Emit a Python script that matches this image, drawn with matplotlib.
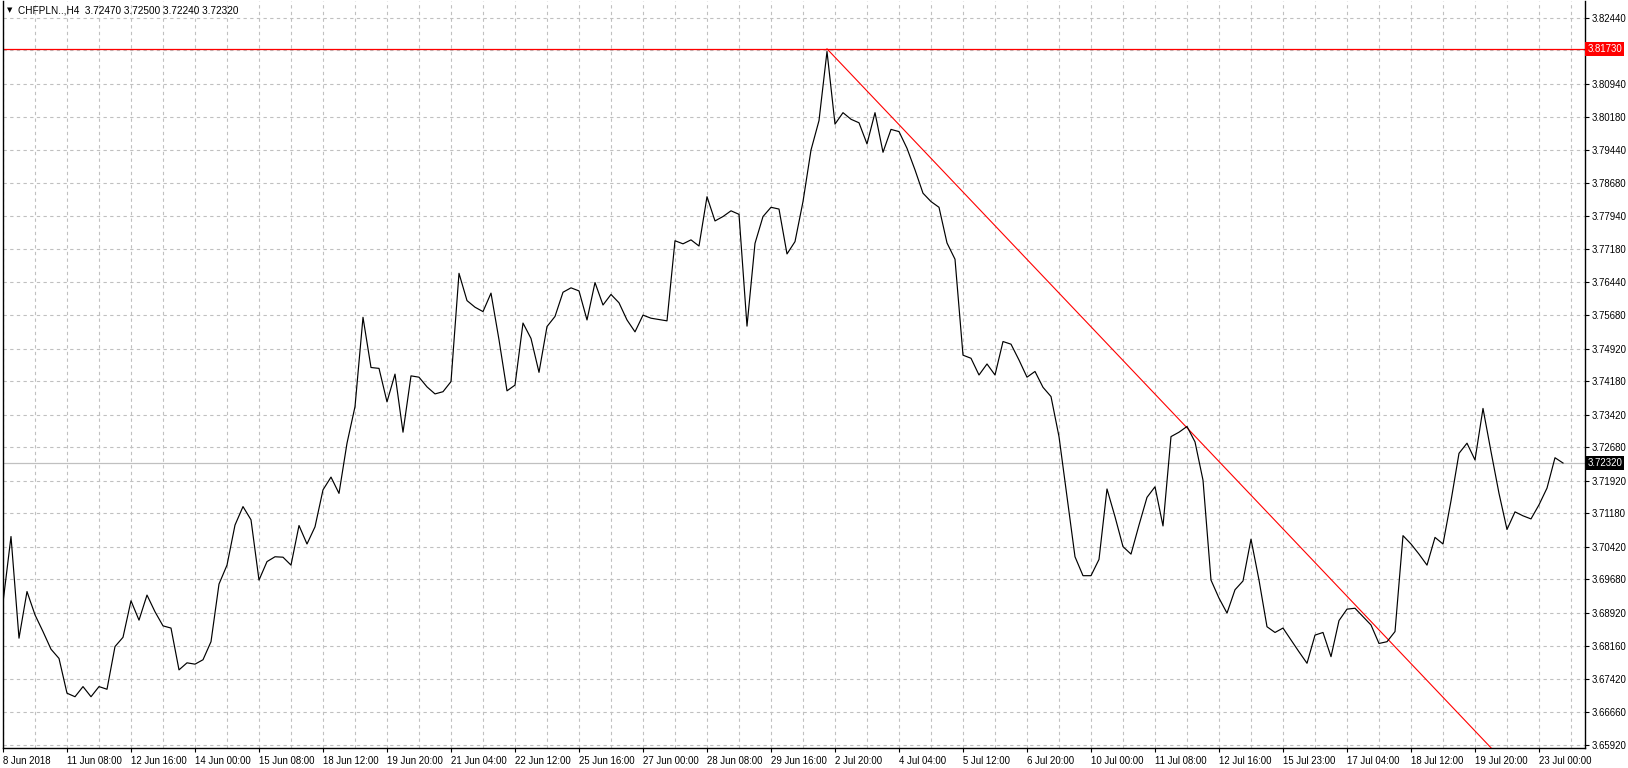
import matplotlib
matplotlib.use("Agg")
import matplotlib.pyplot as plt
import matplotlib.transforms as mtransforms

# ---------------- data ----------------
symbol_header = "CHFPLN..,H4  3.72470 3.72500 3.72240 3.72320"

close = [
    3.6915, 3.7065, 3.6834, 3.6940, 3.6887, 3.6849, 3.6809, 3.6788, 3.6709, 3.6701,
    3.6724, 3.6701, 3.6724, 3.6718, 3.6815, 3.6836, 3.6919, 3.6875, 3.6932, 3.6894,
    3.6862, 3.6857, 3.6762, 3.6778, 3.6775, 3.6785, 3.6826, 3.6957, 3.7000, 3.7091,
    3.7133, 3.7103, 3.6966, 3.7008, 3.7019, 3.7018, 3.7000, 3.7090, 3.7048, 3.7087,
    3.7171, 3.7200, 3.7163, 3.7277, 3.7360, 3.7563, 3.7449, 3.7447, 3.7371, 3.7434,
    3.7302, 3.7430, 3.7427, 3.7405, 3.7389, 3.7394, 3.7417, 3.7663, 3.7601, 3.7586,
    3.7576, 3.7618, 3.7512, 3.7396, 3.7409, 3.7550, 3.7515, 3.7438, 3.7542, 3.7565,
    3.7620, 3.7630, 3.7623, 3.7557, 3.7642, 3.7591, 3.7615, 3.7596, 3.7557, 3.7530,
    3.7568, 3.7561, 3.7558, 3.7555, 3.7737, 3.7730, 3.7739, 3.7725, 3.7837, 3.7782,
    3.7792, 3.7805, 3.7797, 3.7543, 3.7731, 3.7792, 3.7813, 3.7809, 3.7707, 3.7735,
    3.7826, 3.7943, 3.8010, 3.8167, 3.8002, 3.8028, 3.8013, 3.8005, 3.7957, 3.8028,
    3.7938, 3.7990, 3.7985, 3.7947, 3.7898, 3.7845, 3.7826, 3.7813, 3.7732, 3.7695,
    3.7477, 3.7470, 3.7432, 3.7457, 3.7432, 3.7508, 3.7502, 3.7466, 3.7427, 3.7440,
    3.7404, 3.7383, 3.7292, 3.7156, 3.7019, 3.6976, 3.6976, 3.7013, 3.7173, 3.7110,
    3.7042, 3.7025, 3.7091, 3.7154, 3.7178, 3.7089, 3.7292, 3.7302, 3.7315, 3.7280,
    3.7193, 3.6966, 3.6925, 3.6891, 3.6944, 3.6964, 3.7059, 3.6966, 3.6860, 3.6847,
    3.6857, 3.6830, 3.6803, 3.6777, 3.6841, 3.6847, 3.6792, 3.6874, 3.6900, 3.6902,
    3.6883, 3.6864, 3.6822, 3.6826, 3.6849, 3.7067, 3.7048, 3.7025, 3.7000, 3.7063,
    3.7048, 3.7146, 3.7254, 3.7277, 3.7239, 3.7356, 3.7258, 3.7163, 3.7081, 3.7121,
    3.7112, 3.7105, 3.7137, 3.7175, 3.7244, 3.72320,
]

x_tick_labels = [
    "8 Jun 2018", "11 Jun 08:00", "12 Jun 16:00", "14 Jun 00:00", "15 Jun 08:00",
    "18 Jun 12:00", "19 Jun 20:00", "21 Jun 04:00", "22 Jun 12:00", "25 Jun 16:00",
    "27 Jun 00:00", "28 Jun 08:00", "29 Jun 16:00", "2 Jul 20:00", "4 Jul 04:00",
    "5 Jul 12:00", "6 Jul 20:00", "10 Jul 00:00", "11 Jul 08:00", "12 Jul 16:00",
    "15 Jul 23:00", "17 Jul 04:00", "18 Jul 12:00", "19 Jul 20:00", "23 Jul 00:00",
]
bars_per_label = 8
bars_per_grid = 4

# grid levels on the price scale; the 3.81700 level's label is covered by the red price tag
y_tick_values = [
    3.82440, 3.81700, 3.80940, 3.80180, 3.79440, 3.78680, 3.77940,
    3.77180, 3.76440, 3.75680, 3.74920, 3.74180, 3.73420, 3.72680,
    3.71920, 3.71180, 3.70420, 3.69680, 3.68920, 3.68160, 3.67420,
    3.66660, 3.65920,
]
y_tick_labels = [
    "3.82440", "", "3.80940", "3.80180", "3.79440", "3.78680", "3.77940",
    "3.77180", "3.76440", "3.75680", "3.74920", "3.74180", "3.73420", "3.72680",
    "3.71920", "3.71180", "3.70420", "3.69680", "3.68920", "3.68160", "3.67420",
    "3.66660", "3.65920",
]

high_level = 3.81730          # red horizontal line
last_price = 3.72320          # current price line
trend_x = [103, 148]          # trend line anchors (bar index)
trend_y = [3.81730, 3.73120]
trend_end_bar = 205

# ---------------- figure ----------------
W, H = 1628, 768
fig = plt.figure(figsize=(W / 100, H / 100), dpi=100)
fig.patch.set_facecolor("white")

left_px, right_px, top_px, bottom_px = 2.5, 1585, 1, 748
ax = fig.add_axes([left_px / W, 1 - bottom_px / H,
                   (right_px - left_px) / W, (bottom_px - top_px) / H])
ax.set_facecolor("white")

FONT = "Liberation Sans"
FS = 6.9

n = len(close)
xs = list(range(n))

ax.set_xlim(-0.0625, 197.75)
ax.set_ylim(3.65845, 3.82817)

# grid
grid_color = "#c0c0c0"
ax.set_yticks(y_tick_values)
ax.set_yticklabels(y_tick_labels, fontfamily=FONT, fontsize=FS)
xt = [i * bars_per_label for i in range(len(x_tick_labels))]
ax.set_xticks(xt)
ax.set_xticklabels(x_tick_labels, fontfamily=FONT, fontsize=FS, ha="left")
ax.set_xticks(list(range(0, 200, bars_per_grid)), minor=True)
ax.grid(True, which="both", axis="x", color=grid_color, linestyle=(0, (3, 3)), linewidth=0.8)
ax.grid(True, which="major", axis="y", color=grid_color, linestyle=(0, (3, 3)), linewidth=0.8)
ax.set_axisbelow(True)

ax.yaxis.tick_right()
ax.tick_params(axis="y", which="major", direction="out", length=3, width=0.8, pad=2, colors="black")
ax.tick_params(axis="x", which="major", direction="out", length=3, width=0.8, pad=2.5, colors="black")
ax.tick_params(axis="x", which="minor", length=0)

for side in ["left", "bottom", "right"]:
    ax.spines[side].set_color("black")
    ax.spines[side].set_linewidth(1.0)
ax.spines["top"].set_visible(False)

# current price line
ax.axhline(last_price, color=grid_color, linewidth=0.9, zorder=1.5)
# red horizontal high level
ax.axhline(high_level, color="#ff0000", linewidth=0.9, zorder=2)

# price line
ax.plot(xs, close, color="black", linewidth=0.85, zorder=3)

# trend line (ray from first anchor to the right)
slope = (trend_y[1] - trend_y[0]) / (trend_x[1] - trend_x[0])
ax.plot([trend_x[0], trend_end_bar],
        [trend_y[0], trend_y[0] + slope * (trend_end_bar - trend_x[0])],
        color="#ff0000", linewidth=0.8, zorder=2.8)

# right-side price labels
trans = mtransforms.blended_transform_factory(ax.transAxes, ax.transData)
ax.text(1.0015, high_level, f"{high_level:.5f}", transform=trans, ha="left", va="center",
        fontfamily=FONT, fontsize=FS, color="white", clip_on=False, zorder=10,
        bbox=dict(facecolor="#ff0000", edgecolor="none", boxstyle="square,pad=0.22"))
ax.text(1.0015, last_price, f"{last_price:.5f}", transform=trans, ha="left", va="center",
        fontfamily=FONT, fontsize=FS, color="white", clip_on=False, zorder=10,
        bbox=dict(facecolor="black", edgecolor="none", boxstyle="square,pad=0.22"))

# header
fig.text(7 / W, 1 - 10.5 / H, "▼", fontsize=5, color="black", va="center", ha="left",
         fontfamily="DejaVu Sans")
fig.text(18 / W, 1 - 10.5 / H, symbol_header, fontsize=FS + 0.3, color="black",
         va="center", ha="left", fontfamily=FONT)

fig.savefig("out.png", dpi=100, facecolor="white")
